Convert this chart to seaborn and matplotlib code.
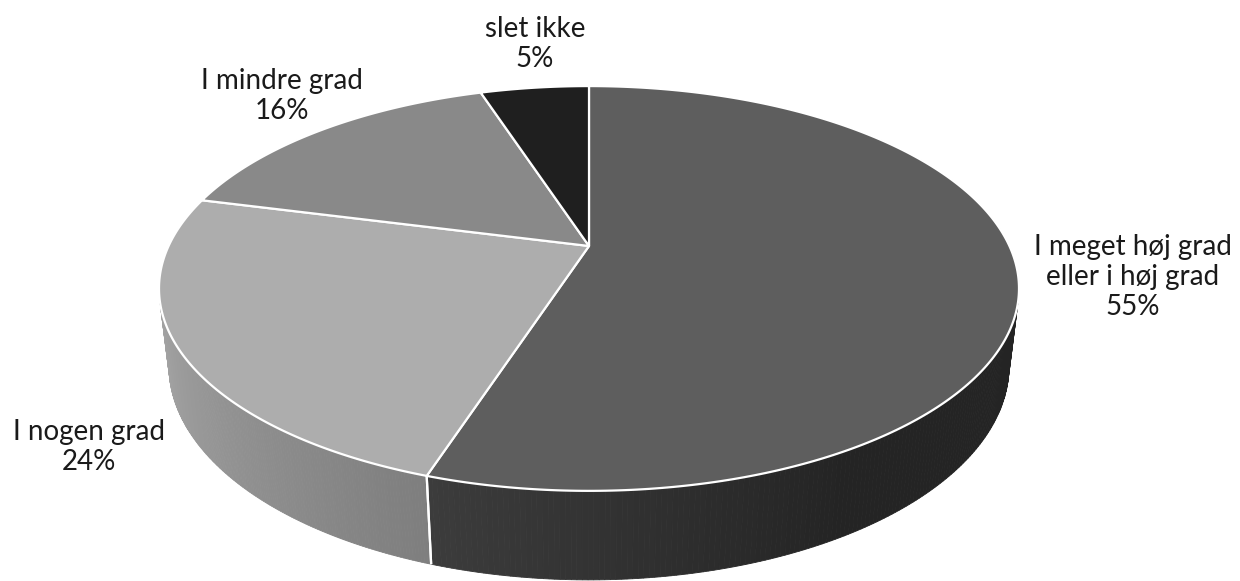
import numpy as np
import matplotlib
matplotlib.use("Agg")
import matplotlib.pyplot as plt
from matplotlib.patches import Polygon
import seaborn as sns

# ---- data ----
categories = ["I meget høj grad\neller i høj grad", "I nogen grad", "I mindre grad", "slet ikke"]
values = [55, 24, 16, 5]
pct_labels = ["55%", "24%", "16%", "5%"]

# ---- style ----
top_colors = ["#5e5e5e", "#adadad", "#898989", "#1f1f1f"]
side_dark = [36, 94, 80, 20]      # grey level where light factor = 0
side_light = [88, 164, 150, 40]   # grey level where light factor = 1
label_xy = [(1133, 277), (89, 447), (282, 96), (535, 44)]

sns.set_theme(style="white")
plt.rcParams['font.family'] = ['Lato', 'DejaVu Sans']

W, H = 1240, 581
fig = plt.figure(figsize=(W / 100, H / 100), dpi=100)
ax = fig.add_axes([0, 0, 1, 1])
ax.set_xlim(0, W)
ax.set_ylim(H, 0)
ax.axis("off")

# perspective projection of a flat cylinder (3D pie)
f_len, Dist, elev, depth_h = 1778.8, 4.231, np.radians(27.4), 0.2088
cx, cy = 589, 246
ke, se = np.cos(elev), np.sin(elev)


def proj(t, z):
    X, Y = np.cos(t), np.sin(t)
    d = Dist + Y * ke - z * se
    up = Y * se + z * ke
    return cx + f_len * X / d, cy - f_len * up / d


vals = np.array(values, dtype=float)
bounds = np.radians(90 - 360 * np.concatenate([[0], np.cumsum(vals)]) / vals.sum())

# visible range of the side wall (front facing part)
s_lim = -1.0 / (Dist * ke)
vis_lo = -np.pi - np.arcsin(s_lim)
vis_hi = np.arcsin(s_lim)


def light(t):
    return np.clip((np.radians(-60) - t) / np.radians(104), 0, 1)


# side walls
for i in range(len(vals)):
    hi, lo = bounds[i], bounds[i + 1]
    for shift in (0, -2 * np.pi, 2 * np.pi):
        a, b = lo + shift, hi + shift
        a2, b2 = max(a, vis_lo), min(b, vis_hi)
        if b2 <= a2:
            continue
        n = 150
        ts = np.linspace(a2, b2, n + 1)
        for j in range(n):
            ta, tb = ts[j], ts[j + 1]
            xa0, ya0 = proj(ta, 0)
            xb0, yb0 = proj(tb, 0)
            xa1, ya1 = proj(ta, -depth_h)
            xb1, yb1 = proj(tb, -depth_h)
            g = light((ta + tb) / 2)
            v = (side_dark[i] + (side_light[i] - side_dark[i]) * g) / 255
            col = (v, v, v)
            ax.add_patch(Polygon([(xa0, ya0), (xb0, yb0), (xb1, yb1), (xa1, ya1)],
                                 closed=True, facecolor=col, edgecolor=col, lw=0.6, zorder=1))
        for tt in (a, b):
            if vis_lo < tt < vis_hi:
                x0, y0 = proj(tt, 0)
                x1, y1 = proj(tt, -depth_h)
                ax.plot([x0, x1], [y0, y1], color="white", lw=1.6, zorder=2,
                        solid_capstyle="butt")

# top faces
for i in range(len(vals)):
    ts = np.linspace(bounds[i], bounds[i + 1], 300)
    xs, ys = proj(ts, 0)
    pts = [(cx, cy)] + list(zip(xs, ys))
    ax.add_patch(Polygon(pts, closed=True, facecolor=top_colors[i], edgecolor="white",
                         lw=1.6, joinstyle="round", zorder=3))

# labels
for i in range(len(vals)):
    x, y = label_xy[i]
    ax.text(x, y, categories[i] + "\n" + pct_labels[i], ha="center", va="center",
            multialignment="center", fontsize=20, fontweight="normal",
            color="#1a1a1a", linespacing=1.2, zorder=5)

fig.savefig("out.png", dpi=100)
